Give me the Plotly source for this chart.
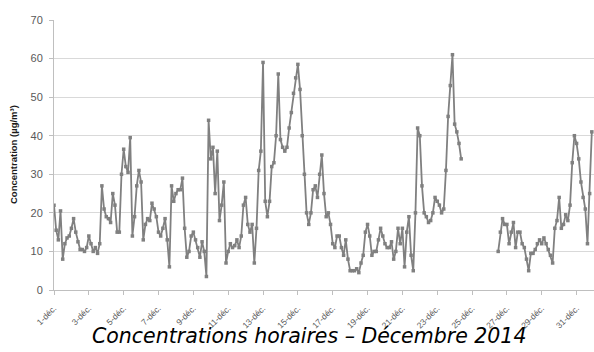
import pandas as pd
import plotly.graph_objects as go

# Hourly concentrations (µg/m³), one reading every 3 hours, 8 readings per day
week1 = [
    22, 15.5, 13, 20.5, 8, 12, 13.5, 14,        # 1 déc
    16, 18.5, 15, 12.5, 10.5, 10.5, 10, 11,     # 2 déc
    14, 12, 10, 11, 9.5, 12, 27, 21,            # 3 déc
    19, 18.5, 17.5, 25, 22, 15, 15, 30,         # 4 déc
    36.5, 32, 30.5, 39.5, 14, 19, 27, 31,       # 5 déc
    28, 13, 17, 18.5, 18, 22.5, 21, 19,         # 6 déc
    15, 14, 16, 18.5, 13, 6, 27, 23,            # 7 déc
]
week2 = [
    25, 26, 26, 29, 16, 8.5, 10, 14,            # 8 déc
    15, 13, 11, 8.5, 12.5, 10, 3.5, 44,         # 9 déc
    34, 37, 25, 36, 18, 22, 28, 7,              # 10 déc
    10, 12, 11, 11.5, 13, 11, 14, 22,           # 11 déc
    24, 17, 15, 17, 7, 16, 31, 36,              # 12 déc
    59, 23, 19, 23, 32, 33, 40, 56,             # 13 déc
    39, 37, 36, 37, 42, 46, 51, 55,             # 14 déc
]
week3 = [
    58.5, 52, 40, 30, 20, 17, 20, 26,           # 15 déc
    27, 24, 30, 35, 25, 19, 20, 17,             # 16 déc
    12, 11, 14, 14, 11, 9, 13, 8,               # 17 déc
    5, 5, 5, 5.5, 4.5, 7, 9, 15,                # 18 déc
    17, 14, 9, 10, 10, 13, 16, 14,              # 19 déc
    12, 11, 11, 12.5, 8, 10, 16, 12,            # 20 déc
    16, 6, 15, 19, 9, 5, 20, 42,                # 21 déc
]
week4 = [
    40, 27, 20, 19, 17.5, 18, 20, 24,           # 22 déc
    23, 22, 20, 21, 31, 45, 53, 61,             # 23 déc
    43, 41, 38, 34, None, None, None, None,     # 24 déc
    None, None, None, None, None, None, None, None,  # 25 déc
    None, None, None, None, 10, 15, 18.5, 17,   # 26 déc
    17, 12, 15, 17.5, 11, 15, 15, 12,           # 27 déc
    11, 8, 5, 9.5, 9.5, 10.5, 12, 13,           # 28 déc
]
week5 = [
    12, 13.5, 12, 10.5, 9, 7, 16, 18,           # 29 déc
    24, 16, 17, 19.5, 18, 22, 33, 40,           # 30 déc
    38, 34, 28, 24, 21, 12, 25, 41,             # 31 déc
]

tick_dates = ["2014-12-01", "2014-12-03", "2014-12-05", "2014-12-07",
              "2014-12-09", "2014-12-11", "2014-12-13", "2014-12-15",
              "2014-12-17", "2014-12-19", "2014-12-21", "2014-12-23",
              "2014-12-25", "2014-12-27", "2014-12-29", "2014-12-31"]
tick_labels = ["1-déc.", "3-déc.", "5-déc.", "7-déc.", "9-déc.", "11-déc.",
               "13-déc.", "15-déc.", "17-déc.", "19-déc.", "21-déc.",
               "23-déc.", "25-déc.", "27-déc.", "29-déc.", "31-déc."]

concentration = week1 + week2 + week3 + week4 + week5
times = pd.date_range("2014-12-01 00:00", periods=len(concentration), freq="3h")

GREY = "#808080"
TEXT = "#595959"

fig = go.Figure()
fig.add_trace(go.Scatter(
    x=times, y=concentration,
    mode="lines+markers",
    line=dict(color=GREY, width=1.8),
    marker=dict(color=GREY, size=3.5, symbol="square"),
    connectgaps=False,
    hoverinfo="x+y",
))

fig.update_layout(
    width=594, height=352,
    margin=dict(l=54, r=0, t=20, b=62),
    paper_bgcolor="white", plot_bgcolor="white",
    showlegend=False,
    font=dict(family="Liberation Sans, Arial, sans-serif", color=TEXT),
    xaxis=dict(
        type="date",
        range=["2014-12-01 00:00", "2015-01-01 00:00"],
        tickmode="array", tickvals=tick_dates, ticktext=tick_labels,
        tickangle=-45, tickfont=dict(size=8.5, color=TEXT),
        ticks="outside", ticklen=4, tickcolor="#bfbfbf",
        ticklabelstandoff=5,
        showgrid=False, showline=True, linecolor="#bfbfbf", linewidth=1,
        zeroline=False,
    ),
    yaxis=dict(
        range=[0, 70], tickmode="array", tickvals=[0, 10, 20, 30, 40, 50, 60, 70],
        tickfont=dict(size=11, color=TEXT),
        ticks="outside", ticklen=4, tickcolor="#bfbfbf",
        ticklabelstandoff=4,
        showgrid=True, gridcolor="#d9d9d9", gridwidth=1,
        showline=True, linecolor="#bfbfbf", linewidth=1,
        zeroline=False,
    ),
    annotations=[
        dict(
            text="Concentration (µg/m³)", textangle=-90,
            xref="paper", yref="paper", x=0, y=0.5,
            xanchor="center", yanchor="middle", xshift=-41, showarrow=False,
            font=dict(family="Liberation Sans, Arial, sans-serif",
                      size=9.5, color="#1a1a1a", weight="bold"),
        ),
        dict(
            text="<i>Concentrations horaires – Décembre 2014</i>",
            xref="paper", yref="paper", x=0.473, y=-0.172,
            xanchor="center", yanchor="middle", showarrow=False,
            font=dict(family="DejaVu Sans, Verdana, sans-serif",
                      size=20.5, color="#000000"),
        ),
    ],
)

fig.write_html("out.html")
